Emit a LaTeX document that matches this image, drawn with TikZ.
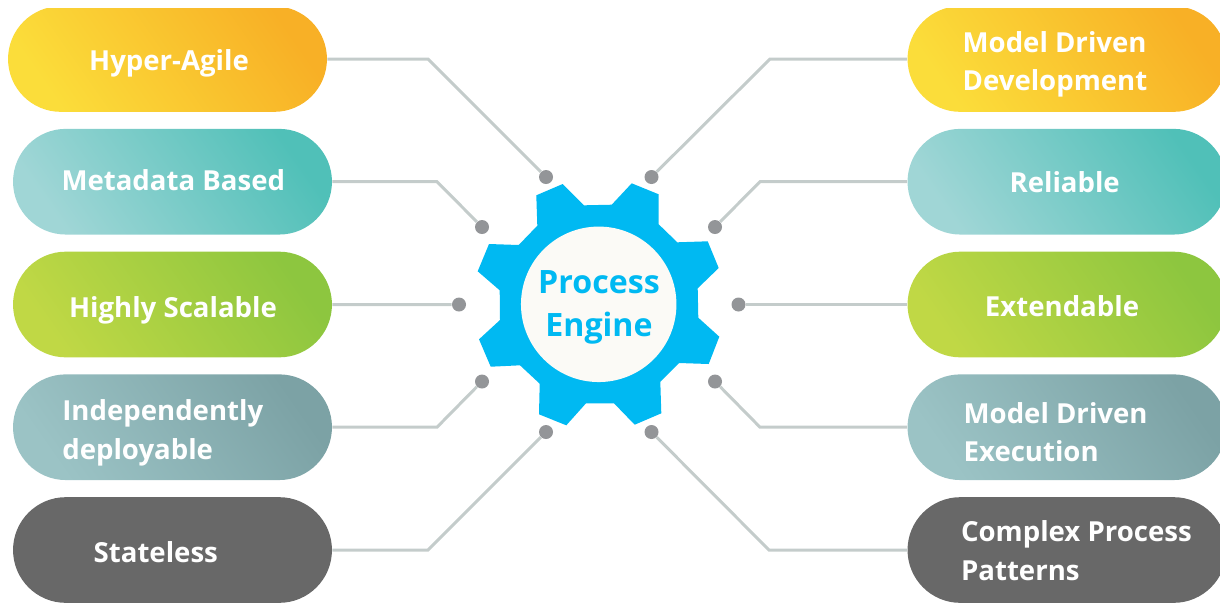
\documentclass[tikz,border=0pt]{standalone}
\usepackage{fontspec}
\setmainfont{Open Sans}
\usepackage{tikz}
\usetikzlibrary{shapes.misc}

\definecolor{gearblue}{HTML}{00B9F2}
\definecolor{hubwhite}{HTML}{FBFAF6}
\definecolor{linkgrey}{HTML}{C4CCCB}
\definecolor{dotgrey}{HTML}{939598}

\tikzset{
  pill/.style={rounded rectangle, minimum width=6.38cm, minimum height=2.114cm, inner sep=0pt},
  pillyellow/.style={left color={rgb,255:red,251;green,221;blue,58}, right color={rgb,255:red,248;green,176;blue,38}, shading angle=125, pill},
  pillteal/.style={left color={rgb,255:red,160;green,214;blue,214}, right color={rgb,255:red,80;green,192;blue,184}, shading angle=125, pill},
  pillgreen/.style={left color={rgb,255:red,192;green,216;blue,69}, right color={rgb,255:red,141;green,198;blue,63}, shading angle=125, pill},
  pillslate/.style={left color={rgb,255:red,155;green,195;blue,197}, right color={rgb,255:red,124;green,162;blue,165}, shading angle=125, pill},
  pilldark/.style={fill={rgb,255:red,104;green,104;blue,104}, pill},
  pilltext/.style={text=white, font=\fontsize{15.7}{22}\selectfont\bfseries, align=left, inner sep=0pt},
  dot/.style={circle, fill=dotgrey, minimum size=0.28cm, inner sep=0pt},
  link/.style={draw=linkgrey, line width=1.7pt}
}

\begin{document}
\begin{tikzpicture}[x=0.02cm,y=-0.02cm]
  \useasboundingbox (0,0) rectangle (1220,603);
  \clip (0,8) rectangle (1220,603);
  % left pills
  \node[pillyellow] (hyper) at (167.5,59) {};
  \node[pillteal] (meta) at (172.5,181.7) {};
  \node[pillgreen] (scalable) at (172.5,304.5) {};
  \node[pillslate] (deploy) at (172.5,427.2) {};
  \node[pilldark] (stateless) at (172.5,550) {};
  % right pills
  \node[pillyellow] (model) at (1067,59) {};
  \node[pillteal] (reliable) at (1067,181.7) {};
  \node[pillgreen] (extend) at (1067,304.5) {};
  \node[pillslate] (exec) at (1067,427.2) {};
  \node[pilldark] (complex) at (1067,550) {};
  % pill labels
  \node[pilltext,anchor=base] (hypertext) at (169,70.7) {Hyper-Agile};
  \node[pilltext,anchor=base] (metatext) at (173.3,190.7) {Metadata Based};
  \node[pilltext,anchor=base] (scalabletext) at (173,317.3) {Highly Scalable};
  \node[pilltext,anchor=base west] (deploytext) at (62,459) {Independently\\deployable};
  \node[pilltext,anchor=base] (statelesstext) at (155.8,562.7) {Stateless};
  \node[pilltext,anchor=base west] (modeltext) at (962.3,90.7) {Model Driven\\Development};
  \node[pilltext,anchor=base] (reliabletext) at (1064.7,192.3) {Reliable};
  \node[pilltext,anchor=base] (extendtext) at (1062,316) {Extendable};
  \node[pilltext,anchor=base west] (exectext) at (963.3,461.7) {Model Driven\\Execution};
  \node[pilltext,anchor=base west] (complextext) at (960.7,580.5) {Complex Process\\Patterns};
  % dots around the gear
  \node[dot] (dl1) at (546,177) {};
  \node[dot] (dl2) at (482,227) {};
  \node[dot] (dl3) at (459,304.5) {};
  \node[dot] (dl4) at (482,381.5) {};
  \node[dot] (dl5) at (546,432) {};
  \node[dot] (dr1) at (651.5,177) {};
  \node[dot] (dr2) at (715,227) {};
  \node[dot] (dr3) at (738.5,304.5) {};
  \node[dot] (dr4) at (715,381.5) {};
  \node[dot] (dr5) at (651.5,432) {};
  % bends of the connectors
  \coordinate (bl1) at (428,59);
  \coordinate (bl2) at (437,181.7);
  \coordinate (bl4) at (437,427.2);
  \coordinate (bl5) at (428,550);
  \coordinate (br1) at (770,59);
  \coordinate (br2) at (760,181.7);
  \coordinate (br4) at (760,427.2);
  \coordinate (br5) at (769,550);
  % connectors
  \draw[link] (hyper) -- (bl1) -- (dl1);
  \draw[link] (meta) -- (bl2) -- (dl2);
  \draw[link] (scalable) -- (dl3);
  \draw[link] (deploy) -- (bl4) -- (dl4);
  \draw[link] (stateless) -- (bl5) -- (dl5);
  \draw[link] (model) -- (br1) -- (dr1);
  \draw[link] (reliable) -- (br2) -- (dr2);
  \draw[link] (extend) -- (dr3);
  \draw[link] (exec) -- (br4) -- (dr4);
  \draw[link] (complex) -- (br5) -- (dr5);
  % gear
  \fill[gearblue] (562.7,184) -- (584,205.3) -- (611.7,204.7) -- (631.7,183.3) -- (658.7,194.3) -- (658.7,224.3)
    -- (677.3,242.3) -- (707.7,241.3) -- (718.7,268) -- (697.7,288.3) -- (698.3,317.7) -- (719.3,336.7)
    -- (708.7,364) -- (679,363) -- (660.3,381.7) -- (661.3,413.3) -- (634.7,424.7) -- (614,403.3)
    -- (586,403.3) -- (566.3,425.3) -- (539,414.3) -- (539.7,383.7) -- (520,365.3) -- (490.7,366.7)
    -- (479,339.3) -- (500,320) -- (499.7,290.3) -- (477.7,271.3) -- (489,244) -- (518.7,245)
    -- (537.3,225.7) -- (536.3,195.3) -- cycle;
  \node[circle, fill=hubwhite, minimum size=3.11cm, inner sep=0pt] (hub) at (598.7,304.3) {};
  \node[text=gearblue, align=center, inner sep=0pt, anchor=base,
    font=\fontsize{18.3}{24.5}\selectfont\bfseries] (hubtext) at (599,336.7) {Process\\Engine};
\end{tikzpicture}
\end{document}
